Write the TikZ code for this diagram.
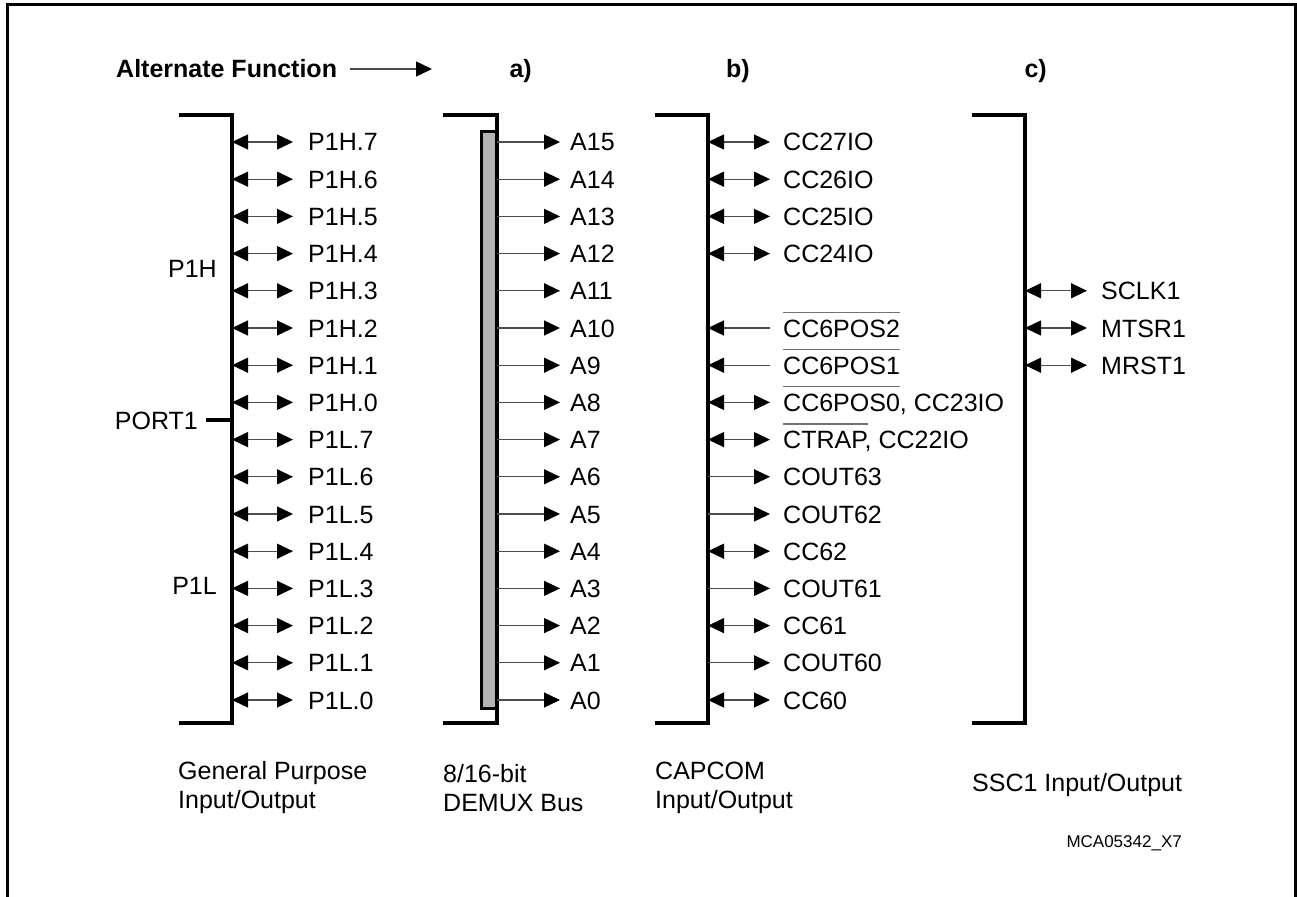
\documentclass[tikz,border=0pt]{standalone}
\usepackage{fontspec}
\setmainfont{Liberation Sans}
\usetikzlibrary{arrows.meta}
\definecolor{busgray}{HTML}{B3B3B3}
\newlength\ovlw
\newcommand\ovl[1]{\settowidth\ovlw{#1}\rlap{\color{black!55}\rule[24pt]{\ovlw}{1.2pt}}#1}
\tikzset{
  brk/.style={line width=4pt, line join=miter},
  conn/.style={line width=1.3pt, draw=black!70},
  lbl/.style={anchor=west, inner sep=0pt, text height=18pt, text depth=0pt, font=\fontsize{25}{30}\selectfont},
  ttl/.style={inner sep=0pt, text height=18pt, text depth=0pt, font=\fontsize{25}{30}\selectfont\bfseries},
  captxt/.style={anchor=west, inner sep=0pt, align=left, font=\fontsize{25}{29}\selectfont},
}
\begin{document}
\begin{tikzpicture}[x=1pt,y=-1pt,>={Triangle[length=16pt,width=15pt,black]}]
\useasboundingbox (0,0) rectangle (1297,896);
% outer frame
\draw[line width=3pt] (7,910) -- (7,5) -- (1295,5) -- (1295,910);

% title
\node[ttl,anchor=west] (title) at (116,69) {Alternate Function};
\coordinate (tarr) at (432,69);
\draw[conn,->] ([xshift=13pt]title.east) -- (tarr);
\node[ttl,anchor=east] (ta) at (532,69) {a)};
\node[ttl,anchor=east] (tb) at (750,69) {b)};
\node[ttl,anchor=east] (tc) at (1047,69) {c)};

% bus bar
\draw[line width=3pt, fill=busgray] (481.5,132) rectangle (497,708);

% brackets
\draw[brk] (179,115) -- (232,115) -- (232,723) -- (179,723);
\draw[brk] (443,115) -- (497,115) -- (497,723) -- (443,723);
\draw[brk] (655,115) -- (708,115) -- (708,723) -- (655,723);
\draw[brk] (972,115) -- (1025,115) -- (1025,723) -- (972,723);

% GPIO side labels
\node[lbl,anchor=east] (p1h) at (217,268) {P1H};
\node[lbl,anchor=east] (p1l) at (217,585) {P1L};
\node[lbl,anchor=east] (port) at (198,420) {PORT1};
\coordinate (pstub) at (232,420);
\draw[brk] ([xshift=8pt]port.east) -- (pstub);

% GPIO rows
\foreach \i/\lab in {0/P1H.7,1/P1H.6,2/P1H.5,3/P1H.4,4/P1H.3,5/P1H.2,6/P1H.1,7/P1H.0,
                     8/P1L.7,9/P1L.6,10/P1L.5,11/P1L.4,12/P1L.3,13/P1L.2,14/P1L.1,15/P1L.0}{
  \pgfmathsetmacro\yy{142+37.2*\i}
  \coordinate (g\i) at (232,\yy);
  \node[lbl] (gl\i) at (308,\yy) {\lab};
  \draw[conn,<->,shorten >=15pt] (g\i) -- (gl\i.west);
}

% Bus rows
\foreach \i in {0,...,15}{
  \pgfmathsetmacro\yy{142+37.2*\i}
  \pgfmathtruncatemacro\nn{15-\i}
  \coordinate (b\i) at (497,\yy);
  \node[lbl] (bl\i) at (570,\yy) {A\nn};
  \draw[conn,->,shorten >=10pt] (b\i) -- (bl\i.west);
}

% CAPCOM rows
\newcommand\crow[3]{%
  \pgfmathsetmacro\yy{142+37.2*#1}
  \coordinate (c#1) at (708,\yy);
  \node[lbl] (cl#1) at (783,\yy) {#2};
  \draw[conn,#3,shorten >=13pt] (c#1) -- (cl#1.west);
}
\crow{0}{CC27IO}{<->}
\crow{1}{CC26IO}{<->}
\crow{2}{CC25IO}{<->}
\crow{3}{CC24IO}{<->}
\crow{5}{\ovl{CC6POS2}}{<-}
\crow{6}{\ovl{CC6POS1}}{<-}
\crow{7}{\ovl{CC6POS0}, CC23IO}{<->}
\crow{8}{\ovl{CTRAP}, CC22IO}{<->}
\crow{9}{COUT63}{->}
\crow{10}{COUT62}{->}
\crow{11}{CC62}{<->}
\crow{12}{COUT61}{->}
\crow{13}{CC61}{<->}
\crow{14}{COUT60}{->}
\crow{15}{CC60}{<->}

% SSC rows
\foreach \i/\lab in {4/SCLK1,5/MTSR1,6/MRST1}{
  \pgfmathsetmacro\yy{142+37.2*\i}
  \coordinate (s\i) at (1025,\yy);
  \node[lbl] (sl\i) at (1101,\yy) {\lab};
  \draw[conn,<->,shorten >=14pt] (s\i) -- (sl\i.west);
}

% captions
\node[captxt] (capg) at (178,788) {General Purpose\\Input/Output};
\node[captxt] (capb) at (443,788) {8/16-bit\\DEMUX Bus};
\node[captxt] (capc) at (655,788) {CAPCOM\\Input/Output};
\node[captxt] (caps) at (972,785) {SSC1 Input/Output};
\node[anchor=east, inner sep=0pt, font=\fontsize{17}{20}\selectfont] (mca) at (1182,843) {MCA05342\_X7};
\end{tikzpicture}
\end{document}
